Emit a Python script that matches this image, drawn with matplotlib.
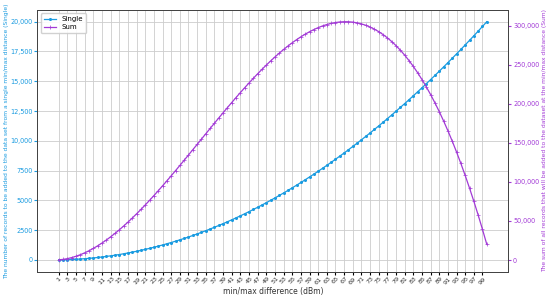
import matplotlib
matplotlib.use("Agg")
import matplotlib.pyplot as plt
from matplotlib.ticker import FuncFormatter

# min/max difference (dBm)
diff = list(range(1, 101))

single = [2, 8, 18, 32, 50, 72, 98, 128, 162, 200, 242, 288, 338, 392, 450, 512, 578, 648, 722, 800,
          882, 968, 1058, 1152, 1250, 1352, 1458, 1568, 1682, 1800, 1922, 2048, 2178, 2312, 2450, 2592,
          2738, 2888, 3042, 3200, 3362, 3528, 3698, 3872, 4050, 4232, 4418, 4608, 4802, 5000, 5202,
          5408, 5618, 5832, 6050, 6272, 6498, 6728, 6962, 7200, 7442, 7688, 7938, 8192, 8450, 8712,
          8978, 9248, 9522, 9800, 10082, 10368, 10658, 10952, 11250, 11552, 11858, 12168, 12482,
          12800, 13122, 13448, 13778, 14112, 14450, 14792, 15138, 15488, 15842, 16200, 16562, 16928,
          17298, 17672, 18050, 18432, 18818, 19208, 19602, 20000]

total = [200, 792, 1764, 3104, 4800, 6840, 9212, 11904, 14904, 18200, 21780, 25632, 29744, 34104,
         38700, 43520, 48552, 53784, 59204, 64800, 70560, 76472, 82524, 88704, 95000, 101400, 107892,
         114464, 121104, 127800, 134540, 141312, 148104, 154904, 161700, 168480, 175232, 181944,
         188604, 195200, 201720, 208152, 214484, 220704, 226800, 232760, 238572, 244224, 249704,
         255000, 260100, 264992, 269664, 274104, 278300, 282240, 285912, 289304, 292404, 295200,
         297680, 299832, 301644, 303104, 304200, 304920, 305252, 305184, 304704, 303800, 302460,
         300672, 298424, 295704, 292500, 288800, 284592, 279864, 274604, 268800, 262440, 255512,
         248004, 239904, 231200, 221880, 211932, 201344, 190104, 178200, 165620, 152352, 138384,
         123704, 108300, 92160, 75272, 57624, 39204, 20000]

xticks = list(range(1, 100, 2))

blue = "#1a9be0"
purple = "#a23ad6"

fig = plt.figure(figsize=(5.5, 2.97), dpi=100)
ax = fig.add_axes([0.068, 0.085, 0.856, 0.882])
ax2 = ax.twinx()

l1, = ax.plot(diff, single, color=blue, lw=0.9, marker=".", ms=2.4, label="Single")
l2, = ax2.plot(diff, total, color=purple, lw=0.9, marker="+", ms=2.2, mew=0.5, label="Sum")

ax.set_xticks(xticks)
ax.set_xticklabels([str(t) for t in xticks], rotation=45, fontsize=4.6, color="#333333")
ax.grid(True, color="#cccccc", lw=0.6)
ax.set_axisbelow(True)

def left_fmt(v, pos):
    return f"{v:,.0f}" if abs(v) >= 10000 else f"{v:.0f}"

ax.yaxis.set_major_formatter(FuncFormatter(left_fmt))
ax2.yaxis.set_major_formatter(FuncFormatter(lambda v, p: f"{v:,.0f}"))
ax.tick_params(axis="y", labelsize=4.7, colors=blue, length=2, pad=1.5)
ax.tick_params(axis="x", length=2, pad=1)
ax2.tick_params(axis="y", labelsize=4.7, colors=purple, length=2, pad=1.5)

ax.set_xlabel("min/max difference (dBm)", fontsize=5.5, color="#333333", labelpad=1)

# axis titles placed by hand so they fit in the small figure
ymid = 0.085 + 0.882 / 2
fig.text(7 / 550, ymid, "The number of records to be added to the data set from a single min/max distance (Single)",
         rotation=90, fontsize=4.3, color=blue, ha="center", va="center")
fig.text(545 / 550, ymid, "The sum of all records that will be added to the dataset at the min/max distance (Sum)",
         rotation=90, fontsize=4.3, color=purple, ha="center", va="center")

for a in (ax, ax2):
    for s in a.spines.values():
        s.set_color("#444444")
        s.set_linewidth(0.7)

ax.legend(handles=[l1, l2], loc="upper left", fontsize=5, framealpha=0.9,
          handlelength=1.8, borderpad=0.4, labelspacing=0.3)

fig.savefig("out.png", dpi=100)
